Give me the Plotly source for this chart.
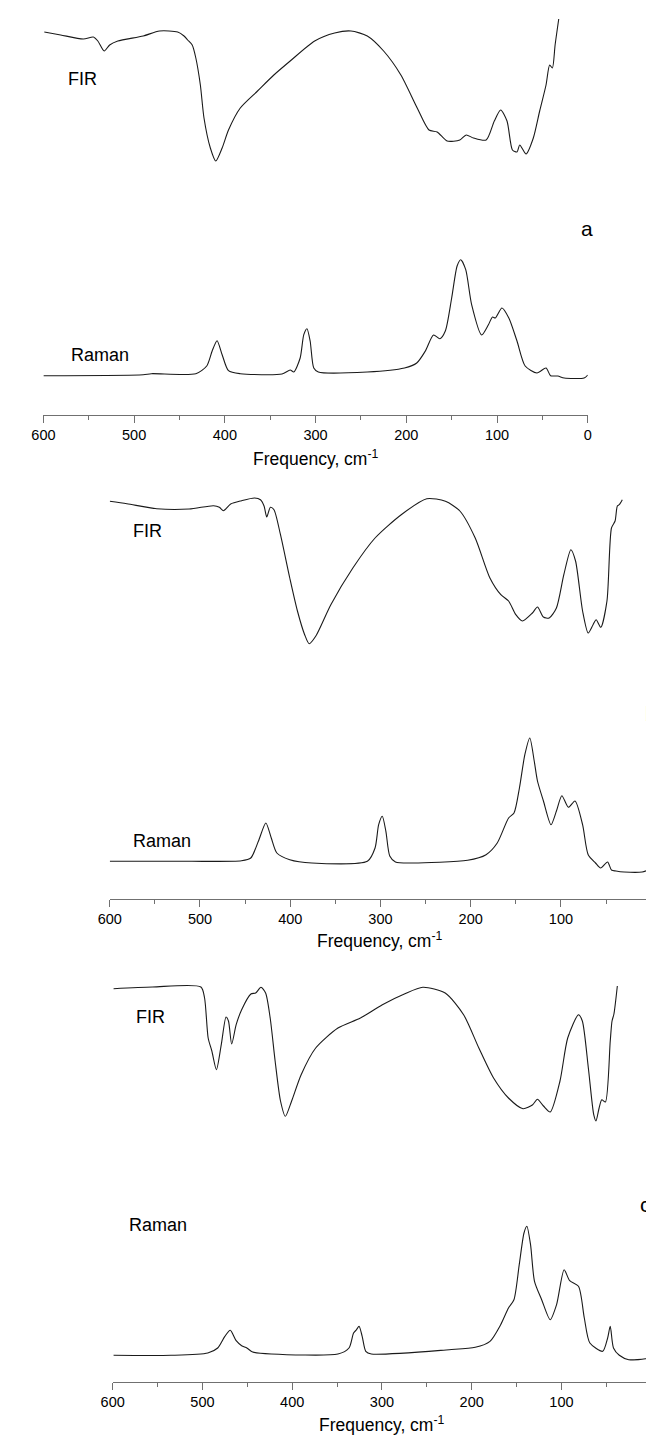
import plotly.graph_objects as go

W, H = 654, 1435
FONT = "Liberation Sans, Arial, Helvetica, sans-serif"

# ---------------- data (frequency in cm-1, intensity in arbitrary units) -------------
tick_vals = [600, 500, 400, 300, 200, 100, 0]
tick_labels = ["600", "500", "400", "300", "200", "100", "0"]
minor_vals = [550, 450, 350, 250, 150, 50]

# Panel a
fir_a_freq = [599, 581, 556, 545, 540, 533, 527, 518, 490, 472, 452, 445, 441, 436, 432, 427, 423, 416,
              410, 403, 396, 383, 364, 346, 328, 301, 279, 261, 243, 225, 206, 188, 175, 166, 155, 141,
              134, 126, 112, 103, 96, 89, 83, 78, 75, 68, 60, 53, 46, 42, 39, 36, 32]
fir_a_int = [136, 133, 129, 131, 127, 117, 123, 127, 132, 137, 136, 132, 128, 123, 110, 83, 50, 20,
             7, 20, 38, 60, 77, 93, 107, 127, 135, 137, 132, 117, 93, 60, 38, 36, 27, 28,
             33, 30, 28, 47, 58, 47, 18, 16, 23, 14, 30, 57, 83, 103, 100, 123, 149]

raman_a_freq = [600, 490, 481, 432, 420, 414, 408.6, 403, 396, 383, 337, 328, 324, 317, 313, 309.5, 306,
                302, 297, 243, 202, 188.5, 179, 170, 163, 157, 150, 144, 140, 134.5, 128, 117, 109.5,
                105, 102, 94.6, 87, 78, 69, 56, 46, 41, 33, 26, 4, 0]
raman_a_int = [12.3, 13.3, 14.3, 14.3, 22, 37, 47.3, 33.3, 17.3, 14.3, 14, 18, 16, 30, 53.3, 59.3, 47,
               20, 16, 16, 20, 25, 37, 53, 49.3, 57, 90, 122, 128.3, 118.3, 83.3, 53, 63.3,
               71, 70, 80, 70, 47, 22, 15, 20, 12.3, 12, 10, 10, 13]

# Panel b
fir_b_freq = [600, 581, 548, 512, 485, 478.5, 474, 466, 454, 439.5, 433, 429, 426, 422, 418, 410.8, 400.5,
              392, 384, 379, 371.6, 355, 330.6, 306, 277, 248.7, 228, 212, 195, 178.7, 166.6, 158, 150,
              142.7, 131.6, 126, 119.4, 113, 105, 96.8, 89, 83.8, 76, 69.8, 64.4, 61, 55.8, 49, 44, 40,
              37.5, 35.4, 32]
fir_b_int = [146.7, 144.3, 139.3, 139, 142.3, 140.7, 137.3, 144, 147.3, 150, 148.3, 142, 131, 140.7, 138.3,
             113.3, 70, 37, 13.3, 4.3, 12, 43.3, 80, 110, 133.3, 149.3, 146.7, 137, 110, 70, 53.3, 47,
             33.3, 27, 35, 41, 31, 30, 40, 73.3, 98.3, 87, 37, 15, 23.3, 28.3, 20.7, 47, 120, 127,
             142, 143.3, 148.3]

raman_b_freq = [600, 512, 454, 443.7, 435.3, 427, 421, 414.8, 400.5, 376, 314.5, 306, 302, 298, 294, 289.7,
                283.4, 265, 203.4, 183, 170.6, 158, 152, 146, 140, 134.5, 129.6, 126, 119.4, 111, 105, 99,
                91.7, 84.4, 76, 69.8, 61.7, 56, 48.3, 44, 39, 30, 10, 0]
raman_b_int = [16.7, 16.7, 17.3, 20, 36.7, 55, 40, 25, 18.3, 15, 16.7, 30, 53.3, 61.7, 46.7, 22,
               16, 15, 17.7, 23.3, 35, 60, 65, 90, 123.3, 140, 117, 97, 77, 53.3, 67, 82.3,
               70.7, 77, 53.3, 23.3, 15, 10, 16, 8, 7, 6, 6, 9]

# Panel c
fir_c_freq = [599, 555.6, 501.7, 497.6, 493.6, 489.5, 484.4, 479, 473.7, 471, 467.4, 462.4, 456.3, 446,
              440.7, 434.8, 429.6, 424.5, 419, 413, 407.6, 400.6, 390, 373.8, 349, 324, 299.5, 275, 254.4,
              229.5, 209, 192, 175.6, 159, 142.8, 132, 126.8, 120, 112.5, 101.6, 93, 81, 76.7, 70, 64,
              61.5, 58, 55, 51, 45.6, 43.6, 41.5, 37.7]
fir_c_int = [139.3, 141, 141, 130, 90, 77, 58.3, 83.3, 111, 107, 84, 103.3, 118.3, 134,
             135, 140.7, 135, 110, 67, 27, 11.7, 27, 53.3, 80, 100, 110, 123.3, 134, 140.7,
             135, 113.3, 80, 50, 30, 19.3, 23.3, 28.7, 22, 16, 47, 90, 113.3, 107, 60, 13.3,
             7, 20, 28.3, 26, 87, 107, 114, 142]

raman_c_freq = [599, 535, 494, 483, 475, 469, 462.4, 456.3, 450.5, 444, 423.4, 349, 336.7, 331.6, 328.3,
                325.5, 322, 318, 311.8, 225, 196, 179.6, 167.7, 159, 152.9, 147, 141.7, 138.5, 134.4, 130,
                122, 112.5, 105.4, 97, 90.8, 81, 74.5, 68.3, 54, 48.5, 45.6, 42, 35.5, 25, 6.4, 0]
raman_c_int = [12.7, 12.7, 15, 20, 31.7, 37.7, 27.3, 22.3, 20, 16, 14, 14, 20, 35, 38.3,
               41.7, 31.7, 16.7, 14, 18.3, 20.7, 26.7, 43.3, 60, 68.3, 103.3, 135, 141.7, 123.3, 86.7,
               68.3, 48.3, 63.3, 98.3, 87.3, 81.7, 50, 25, 16.7, 30, 41.7, 20, 12.7, 8.3, 9.3, 11]

panel_letters = ["a", "b", "c"]
spectrum_labels = ["FIR", "Raman"]
axis_title = "Frequency, cm<sup>-1</sup>"

# ---------------- layout geometry (pixels) ----------------
panels = [
    dict(x0=24, x1=582, ay=407, ty=450, letter=(581, 221, "center"), fir_lbl=(64, 71), ram_lbl=(82, 347),
         fir_win=(0, 160), ram_win=(240, 380),
         fir=(fir_a_freq, fir_a_int), ram=(raman_a_freq, raman_a_int)),
    dict(x0=92, x1=647, ay=891, ty=932, letter=(655, 705, "right"), fir_lbl=(131, 523), ram_lbl=(146, 833),
         fir_win=(480, 640), ram_win=(720, 870),
         fir=(fir_b_freq, fir_b_int), ram=(raman_b_freq, raman_b_int)),
    dict(x0=95, x1=647, ay=1374, ty=1416, letter=(641, 1196, "center"), fir_lbl=(134, 1009), ram_lbl=(141, 1217),
         fir_win=(960, 1120), ram_win=(1200, 1360),
         fir=(fir_c_freq, fir_c_int), ram=(raman_c_freq, raman_c_int)),
]


def py(p):
    return 1 - p / H


fig = go.Figure()
layout = dict(
    width=W, height=H, margin=dict(l=0, r=0, t=0, b=0),
    paper_bgcolor="white", plot_bgcolor="rgba(0,0,0,0)",
    showlegend=False, font=dict(family=FONT, color="black"),
)
annotations = []
AXC = "#707070"

for i, p in enumerate(panels):
    xn = "" if i == 0 else str(i + 1)
    xkey = "xaxis" + xn
    layout[xkey] = dict(
        domain=[p["x0"] / W, p["x1"] / W], range=[600, 0], anchor="free", position=py(p["ay"]),
        showline=True, linecolor=AXC, linewidth=1, mirror=False,
        ticks="outside", ticklen=7, tickwidth=1, tickcolor=AXC,
        tickmode="array", tickvals=tick_vals, ticktext=tick_labels,
        tickfont=dict(size=14.5, color="black", family=FONT),
        ticklabeloverflow="allow",
        showgrid=False, zeroline=False, fixedrange=True,
        minor=dict(tickmode="array", tickvals=minor_vals, ticks="outside", ticklen=4,
                   tickwidth=1, tickcolor=AXC, showgrid=False),
    )
    for j, (key, win) in enumerate([("fir", p["fir_win"]), ("ram", p["ram_win"])]):
        yidx = 2 * i + j + 1
        yn = "" if yidx == 1 else str(yidx)
        layout["yaxis" + yn] = dict(
            domain=[py(win[1]), py(win[0])], range=[0, win[1] - win[0]],
            visible=False, anchor="x" + xn, fixedrange=True,
        )
        freq, inten = p[key]
        fig.add_trace(go.Scatter(
            x=freq, y=inten, mode="lines", xaxis="x" + xn, yaxis="y" + yn,
            line=dict(color="#1a1a1a", width=1.1, shape="spline", smoothing=0.7),
            hoverinfo="skip",
        ))
    annotations.append(dict(text=spectrum_labels[0], x=p["fir_lbl"][0] / W, y=py(p["fir_lbl"][1]),
                            xanchor="center", font=dict(size=18, family=FONT, color="black")))
    annotations.append(dict(text=spectrum_labels[1], x=p["ram_lbl"][0] / W, y=py(p["ram_lbl"][1]),
                            xanchor="center", font=dict(size=18, family=FONT, color="black")))
    annotations.append(dict(text=panel_letters[i], x=p["letter"][0] / W, y=py(p["letter"][1]),
                            xanchor=p["letter"][2], font=dict(size=21, family=FONT, color="black")))
    annotations.append(dict(text=axis_title, x=(p["x0"] + p["x1"]) / 2 / W, y=py(p["ty"]),
                            xanchor="center", font=dict(size=17.5, family=FONT, color="black")))

for a in annotations:
    a.update(xref="paper", yref="paper", showarrow=False, yanchor="middle")
layout["annotations"] = annotations

fig.update_layout(**layout)
fig.write_html("out.html")
